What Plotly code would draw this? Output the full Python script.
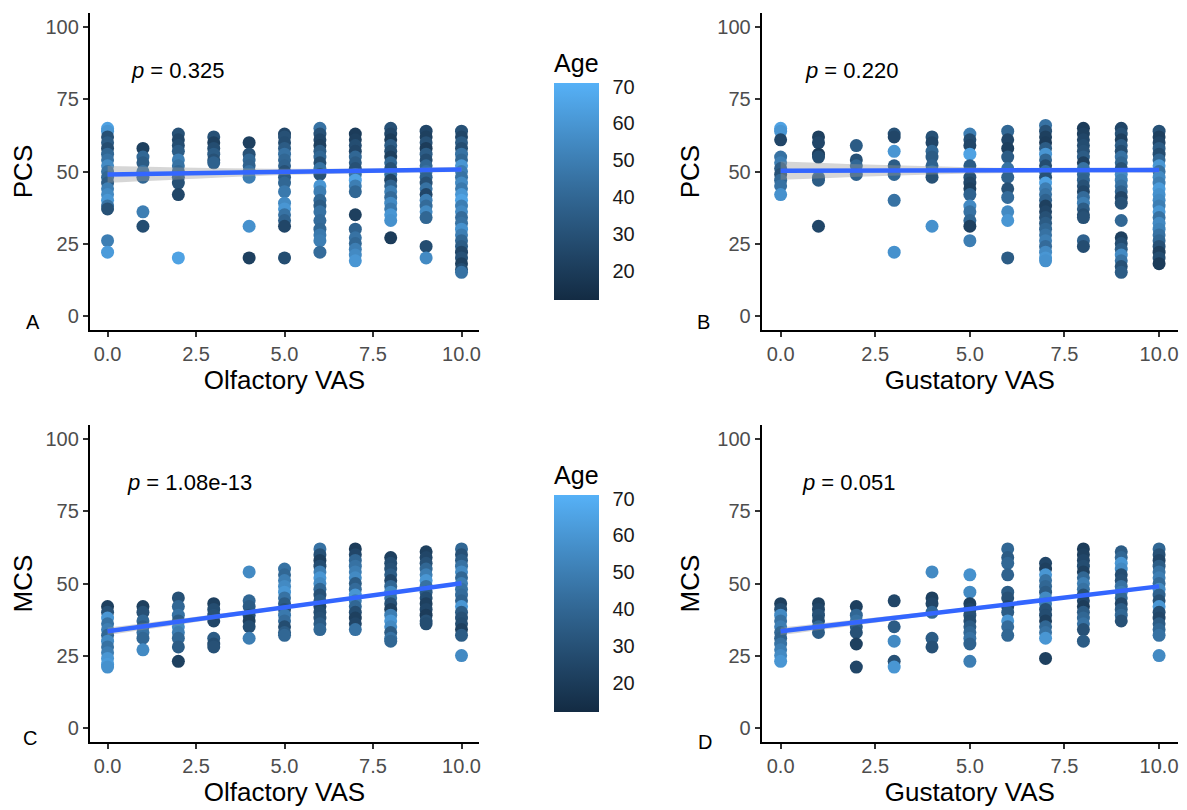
import plotly.graph_objects as go

# page is drawn with an 8px body margin, so figure pixels = page pixels - 8
OFF = 8
W, H = 1187 - OFF, 810 - OFF

# ---------------- DATA ----------------
# Panel A: PCS vs Olfactory VAS
A_x = ([0]*18 + [1]*7 + [2]*11 + [3]*6 + [4]*8 + [5]*17 + [6]*19 + [7]*18 + [8]*18 + [9]*18 + [10]*26)
A_y = [65,64,62,60,58,56,54,52,50,48,46,44,42,40,38,37,26,22,
       58,55,53,50,48,36,31,
       63,61,59,57,54,52,50,48,46,42,20,
       62,60,58,56,54,53,
       60,56,54,52,50,48,31,20,
       63,62,60,58,56,54,52,50,48,46,43,39,37,35,33,31,20,
       65,63,61,59,57,55,53,51,49,45,43,40,38,36,33,30,28,26,22,
       63,61,59,57,55,53,51,49,47,45,43,35,30,27,25,23,21,19,
       65,63,61,59,57,55,53,51,49,47,45,43,41,39,37,35,33,27,
       64,62,60,58,56,54,52,50,48,46,44,42,40,38,36,34,24,20,
       64,62,60,58,56,54,52,50,48,46,44,42,40,38,36,34,32,30,28,26,24,22,20,18,16,15]
A_age = [65,60,30,35,28,40,45,55,45,40,35,50,55,60,45,30,50,62,
         22,40,35,45,40,50,28,
         30,25,28,35,50,45,40,35,30,25,65,
         30,22,28,35,30,38,
         22,30,40,38,45,50,58,22,
         25,30,28,35,45,40,38,30,35,40,48,55,60,45,38,25,28,
         45,30,25,22,35,40,28,45,30,60,50,40,35,45,42,40,48,50,42,
         20,22,28,25,40,35,30,45,65,50,40,22,38,45,40,50,55,60,
         30,25,20,35,28,22,40,30,45,25,38,50,42,55,48,60,58,20,
         25,22,30,20,35,28,40,45,38,30,45,25,50,42,55,40,28,55,
         30,25,35,28,45,40,60,50,45,55,48,60,65,50,55,42,45,58,50,40,35,25,30,22,28,45]

# Panel B: PCS vs Gustatory VAS
B_x = ([0]*10 + [1]*7 + [2]*4 + [3]*7 + [4]*8 + [5]*14 + [6]*11 + [7]*25 + [8]*19 + [9]*22 + [10]*24)
B_y = [65,64,61,55,53,51,49,47,45,42,
       62,60,56,55,48,47,31,
       59,54,52,49,
       63,62,57,52,49,40,22,
       62,60,57,55,52,50,48,31,
       63,61,59,56,52,48,46,44,42,38,36,33,31,26,
       64,61,58,55,51,48,44,41,36,33,20,
       66,64,62,60,58,56,54,52,50,48,46,44,42,40,38,36,34,32,30,28,26,24,22,20,19,
       65,63,61,59,57,55,53,51,49,47,45,43,41,39,37,35,34,26,24,
       65,63,61,59,57,55,53,51,49,47,45,43,41,39,33,27,25,23,21,19,17,15,
       64,62,60,58,56,54,52,50,48,46,44,42,40,38,36,34,32,30,28,26,24,22,20,18]
B_age = [65,60,25,45,50,35,30,40,45,58,
         22,25,20,28,40,35,25,
         35,30,40,38,
         30,25,60,35,40,45,58,
         30,25,40,35,38,45,30,58,
         50,28,25,65,35,30,25,22,38,55,45,40,22,50,
         40,25,22,35,45,38,30,42,55,60,35,
         45,30,22,20,35,60,40,28,45,30,65,50,45,38,22,25,30,35,40,45,50,42,55,60,58,
         20,22,25,28,30,35,22,45,40,38,30,25,42,50,35,28,30,38,28,
         25,30,22,35,28,45,40,30,55,50,45,38,25,30,40,22,28,35,55,45,30,35,
         30,22,25,35,28,40,60,45,55,50,62,58,55,50,60,45,55,52,45,40,30,22,28,20]

# Panel C: MCS vs Olfactory VAS
C_x = ([0]*12 + [1]*7 + [2]*9 + [3]*7 + [4]*7 + [5]*13 + [6]*15 + [7]*15 + [8]*16 + [9]*14 + [10]*17)
C_y = [42,40,38,36,34,32,30,28,26,24,22,21,
       42,40,37,35,33,31,27,
       45,42,39,37,35,33,31,28,23,
       43,41,39,37,31,29,28,
       54,44,42,39,37,35,31,
       55,53,51,49,47,45,43,41,39,37,35,33,32,
       62,60,58,56,54,52,50,48,46,44,42,40,38,36,34,
       62,60,58,56,54,52,50,48,46,44,42,40,38,36,34,
       59,57,55,53,51,49,47,45,43,41,39,37,35,33,31,30,
       61,59,57,55,53,51,49,47,45,43,41,39,37,36,
       62,60,58,56,54,52,50,48,46,44,42,40,38,36,34,32,25]
C_age = [22,30,60,45,50,40,55,45,50,60,62,58,
         22,30,40,35,45,40,55,
         30,40,45,35,55,50,40,35,22,
         22,28,30,25,35,28,30,
         55,40,35,30,22,28,50,
         45,40,50,55,60,45,35,30,48,42,28,35,40,
         45,30,22,28,50,60,55,40,30,35,25,28,30,35,40,
         20,25,40,45,50,55,35,42,60,50,40,28,22,25,45,
         22,28,30,35,25,40,55,45,30,22,50,60,55,35,45,40,
         22,25,30,40,50,60,45,35,28,22,25,20,30,28,
         40,30,35,45,55,40,50,45,42,38,60,35,30,28,22,35,55]

# Panel D: MCS vs Gustatory VAS
D_x = ([0]*11 + [1]*6 + [2]*7 + [3]*5 + [4]*6 + [5]*11 + [6]*11 + [7]*15 + [8]*16 + [9]*13 + [10]*17)
D_y = [43,41,39,37,35,33,31,29,27,25,23,
       43,41,39,37,35,33,
       42,39,37,35,33,29,21,
       44,35,30,23,21,
       54,45,43,40,31,28,
       53,47,43,41,39,37,35,33,31,29,23,
       62,59,57,53,47,45,42,40,37,35,32,
       57,55,53,51,49,47,45,43,41,39,37,35,33,31,24,
       62,60,58,56,54,52,50,48,46,44,42,40,38,36,34,30,
       61,59,57,55,53,51,49,47,45,43,41,39,37,
       62,60,58,56,54,52,50,48,46,44,42,40,38,36,34,32,25]
D_age = [22,28,55,45,50,40,38,45,50,55,60,
         22,25,30,28,40,35,
         22,40,45,35,30,22,25,
         25,35,55,30,60,
         55,22,25,40,35,30,
         58,55,22,25,30,28,35,40,45,38,50,
         40,35,40,38,35,30,25,35,60,42,40,
         25,22,60,45,40,35,55,50,30,28,22,40,45,60,22,
         20,22,25,28,22,40,50,45,30,25,20,35,40,45,30,35,
         35,40,60,55,28,30,45,50,40,25,35,40,30,
         40,30,25,35,45,50,42,55,38,30,60,28,25,35,40,45,55]

# Fitted lines: value at x = 0 and x = 10
fit_x = [0, 10]
A_fit = [49.0, 50.7]
B_fit = [50.3, 50.5]
C_fit = [33.4, 50.1]
D_fit = [33.4, 49.0]
# confidence band half-widths
band_x = [0, 2.5, 5, 7.5, 10]
A_se = [2.9, 1.9, 1.1, 0.8, 0.9]
B_se = [3.2, 2.0, 1.1, 0.7, 0.9]
C_se = [1.3, 0.9, 0.6, 0.5, 0.6]
D_se = [1.3, 0.9, 0.6, 0.5, 0.6]

p_labels = ["0.325", "0.220", "1.08e-13", "0.051"]
panel_letters = ["A", "B", "C", "D"]
x_titles = ["Olfactory VAS", "Gustatory VAS", "Olfactory VAS", "Gustatory VAS"]
y_titles = ["PCS", "PCS", "MCS", "MCS"]
y_ticks = [0, 25, 50, 75, 100]
x_ticks = [0, 2.5, 5, 7.5, 10]
x_ticktext = ["0.0", "2.5", "5.0", "7.5", "10.0"]
age_ticks = [20, 30, 40, 50, 60, 70]
age_min, age_max = 12, 71

# ---------------- STYLE ----------------
FONT = "Liberation Sans, Arial, Helvetica, sans-serif"
cscale = [[0, "#132B43"], [0.25, "#234A6D"], [0.5, "#336A98"], [0.75, "#448DC7"], [1, "#56B1F7"]]

# page-pixel boxes (left, right, top, bottom)
boxes = [(90, 480, 13, 330), (763, 1180, 13, 330),
         (90, 480, 425, 742), (763, 1180, 425, 742)]
# colorbar: left edge, bar bottom (page px)
CB_THICK = 45
cbars = [(555, 300), None, (555, 712), None]
letter_pos = [(33, 322), (705, 322), (30, 738), (706, 742)]

def px(v):
    return (v - OFF) / W

def py(v):
    return 1 - (v - OFF) / H

fig = go.Figure()
datasets = [(A_x, A_y, A_age, A_fit, A_se), (B_x, B_y, B_age, B_fit, B_se),
            (C_x, C_y, C_age, C_fit, C_se), (D_x, D_y, D_age, D_fit, D_se)]

def interp_line(fit, x):
    return fit[0] + (fit[1] - fit[0]) * (x - fit_x[0]) / (fit_x[1] - fit_x[0])

for i, (xs, ys, ages, fit, se) in enumerate(datasets):
    n = "" if i == 0 else str(i + 1)
    xa, ya = "x" + n, "y" + n
    marker = dict(size=13, color=ages, colorscale=cscale, cmin=age_min, cmax=age_max,
                  line=dict(width=0), opacity=1)
    if cbars[i] is not None:
        cx, cb = cbars[i]
        marker["showscale"] = True
        marker["colorbar"] = dict(
            x=px(cx), xanchor="left", xpad=0, y=py(cb), yanchor="bottom", ypad=0,
            thickness=CB_THICK, thicknessmode="pixels", len=250, lenmode="pixels",
            outlinewidth=0, ticks="outside", tickcolor="rgba(0,0,0,0)", ticklen=10, tickwidth=1,
            tickvals=age_ticks, tickfont=dict(family=FONT, size=20, color="#1a1a1a"),
            title=dict(text="Age", side="top", font=dict(family=FONT, size=25, color="black")),
        )
    else:
        marker["showscale"] = False
    fig.add_trace(go.Scatter(x=xs, y=ys, mode="markers", marker=marker,
                             xaxis=xa, yaxis=ya, showlegend=False, hoverinfo="skip"))
    centre = [interp_line(fit, bx) for bx in band_x]
    upper = [c + s for c, s in zip(centre, se)]
    lower = [c - s for c, s in zip(centre, se)]
    fig.add_trace(go.Scatter(x=band_x, y=upper, mode="lines", line=dict(width=0, shape="spline"),
                             xaxis=xa, yaxis=ya, showlegend=False, hoverinfo="skip"))
    fig.add_trace(go.Scatter(x=band_x, y=lower, mode="lines", line=dict(width=0, shape="spline"),
                             fill="tonexty", fillcolor="rgba(153,153,153,0.4)",
                             xaxis=xa, yaxis=ya, showlegend=False, hoverinfo="skip"))
    fig.add_trace(go.Scatter(x=fit_x, y=fit, mode="lines", line=dict(color="#3366FF", width=4.5),
                             xaxis=xa, yaxis=ya, showlegend=False, hoverinfo="skip"))

    l, r, t, b = boxes[i]
    axis_common = dict(showline=True, linecolor="black", linewidth=2, ticks="outside",
                       ticklen=5, tickwidth=1.5, tickcolor="#333333", showgrid=False,
                       zeroline=False, tickfont=dict(family=FONT, size=20, color="#4D4D4D"))
    fig.layout["xaxis" + n] = dict(
        domain=[px(l), px(r)], anchor=ya, range=[-0.5, 10.5],
        tickvals=x_ticks, ticktext=x_ticktext,
        title=dict(text=x_titles[i], font=dict(family=FONT, size=26, color="black"), standoff=3),
        **axis_common)
    fig.layout["yaxis" + n] = dict(
        domain=[py(b), py(t)], anchor=xa, range=[-5, 105],
        tickvals=y_ticks,
        title=dict(text=y_titles[i], font=dict(family=FONT, size=26, color="black"), standoff=10),
        **axis_common)

    fig.add_annotation(x=0.6 if i in (0, 1) else 0.5, y=85, xref=xa, yref=ya,
                       text="<i>p</i> = " + p_labels[i], showarrow=False,
                       xanchor="left", yanchor="middle",
                       font=dict(family=FONT, size=22, color="black"))
    lx, ly = letter_pos[i]
    fig.add_annotation(x=px(lx), y=py(ly), xref="paper", yref="paper",
                       text=panel_letters[i], showarrow=False, xanchor="center", yanchor="middle",
                       font=dict(family=FONT, size=20, color="black"))

fig.update_layout(width=W, height=H, margin=dict(l=0, r=0, t=0, b=0),
                  paper_bgcolor="white", plot_bgcolor="white", autosize=False)

fig.write_html("out.html")
